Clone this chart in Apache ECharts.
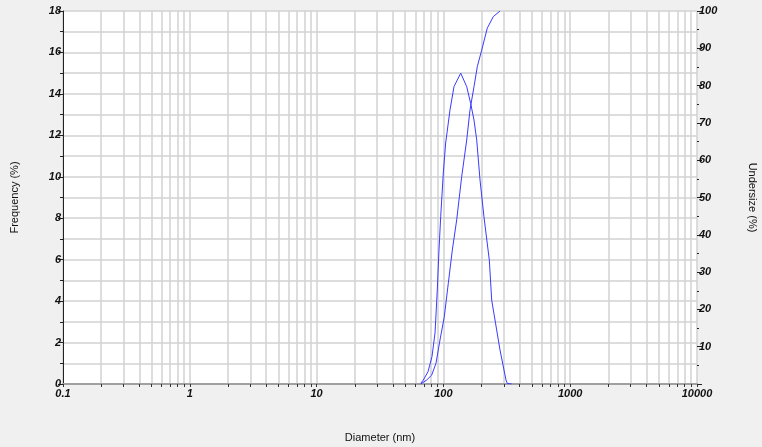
<!DOCTYPE html>
<html>
<head>
<meta charset="utf-8">
<script src="https://cdn.jsdelivr.net/npm/echarts@6/dist/echarts.min.js"></script>
<style>
  html, body { margin: 0; padding: 0; background: #f0f0f0; }
  #chart { width: 762px; height: 447px; }
</style>
</head>
<body>
<div id="chart"></div>
<script>
// frequency curve (left axis)
const freqDiameters = [66.2, 69.4, 75.6, 81.3, 85.9, 89.5, 92.3, 95.2, 99.8, 104.2, 112.7, 121.2, 136.9, 152.7, 164.2, 174.3, 183.1, 194.4, 208.9, 230.2, 240.4, 279.5, 311.7, 319, 345.6];
const freqValues = [0.03, 0.19, 0.59, 1.32, 2.46, 4.54, 6.47, 8.07, 10.18, 11.63, 13.22, 14.35, 15.0, 14.35, 13.53, 12.74, 11.78, 9.85, 8.07, 5.98, 4.05, 1.64, 0.19, 0.03, 0.0];

// undersize curve (right axis)
const underDiameters = [66.2, 73.9, 80.9, 87.4, 94.0, 101.6, 109.3, 117.6, 127.3, 139.4, 152.7, 162.1, 174.3, 185.1, 200.4, 221.9, 247.5, 279.5];
const underValues = [0, 1.07, 2.4, 5.55, 11.8, 18.0, 27.0, 35.9, 44.0, 55.6, 65.4, 73.5, 79.7, 85.1, 89.5, 95.4, 98.5, 100];

// log ticks: 1..9 in each decade
const xTickValues = [];
[0.1, 1, 10, 100, 1000].forEach(d => {
  for (let k = 1; k <= 9; k++) xTickValues.push(+(d * k).toPrecision(3));
});
xTickValues.push(10000);

const chart = echarts.init(document.getElementById('chart'));

const labelFont = {
  fontFamily: 'Liberation Sans',
  fontSize: 11,
  fontWeight: 'bold',
  fontStyle: 'italic',
  color: '#111'
};
const nameFont = {
  fontFamily: 'Liberation Sans',
  fontSize: 11,
  color: '#111'
};
const gridColor = '#d2d2d2';

chart.setOption({
  backgroundColor: '#f0f0f0',
  animation: false,
  grid: {
    left: 63, right: 65, top: 11, bottom: 63,
    outerBoundsMode: 'none',
    containLabel: false,
    show: true, backgroundColor: '#fff', borderWidth: 0
  },
  xAxis: [
    {
      type: 'log',
      logBase: 10,
      min: 0.1,
      max: 10000,
      name: 'Diameter (nm)',
      nameLocation: 'middle',
      nameGap: 48,
      nameTextStyle: nameFont,
      axisLine: { show: false },
      axisTick: {
        show: true, length: 3, customValues: xTickValues,
        lineStyle: { color: '#333' }
      },
      axisLabel: {
        ...labelFont,
        margin: 4,
        formatter: v => String(v)
      },
      splitLine: {
        show: true, customValues: xTickValues,
        lineStyle: { color: gridColor, width: 1.5 }
      }
    },
    {
      type: 'log',
      position: 'top',
      min: 0.1,
      max: 10000,
      axisLine: { show: true, lineStyle: { color: '#a0a0a0', width: 2 } },
      axisTick: { show: false },
      axisLabel: { show: false },
      splitLine: { show: false }
    }
  ],
  yAxis: [
    {
      type: 'value',
      min: 0,
      max: 18,
      interval: 2,
      name: 'Frequency (%)',
      nameLocation: 'middle',
      nameGap: 43,
      nameTextStyle: nameFont,
      axisLine: { show: true, lineStyle: { color: '#222', width: 1 } },
      axisTick: { show: true, length: 5, lineStyle: { color: '#222' } },
      minorTick: { show: true, splitNumber: 2, length: 3, lineStyle: { color: '#222' } },
      axisLabel: { ...labelFont, margin: 2 },
      splitLine: { show: true, lineStyle: { color: gridColor, width: 1.5 } },
      minorSplitLine: { show: true, lineStyle: { color: gridColor, width: 1.5 } }
    },
    {
      type: 'value',
      position: 'right',
      min: 0,
      max: 100,
      interval: 10,
      name: 'Undersize (%)',
      nameLocation: 'middle',
      nameGap: 50,
      nameRotate: -90,
      nameTextStyle: nameFont,
      axisLine: { show: false },
      axisTick: { show: true, length: 5, lineStyle: { color: '#222' } },
      minorTick: { show: true, splitNumber: 2, length: 2, lineStyle: { color: '#222' } },
      axisLabel: {
        ...labelFont,
        margin: 2,
        formatter: v => (v === 0 ? '' : String(v))
      },
      splitLine: { show: false }
    }
  ],
  series: [
    {
      name: 'Frequency',
      type: 'line',
      xAxisIndex: 0,
      yAxisIndex: 0,
      data: freqDiameters.map((d, i) => [d, freqValues[i]]),
      showSymbol: false,
      symbol: 'none',
      lineStyle: { color: '#3a3aff', width: 1 }
    },
    {
      name: 'Undersize',
      type: 'line',
      xAxisIndex: 0,
      yAxisIndex: 1,
      data: underDiameters.map((d, i) => [d, underValues[i]]),
      showSymbol: false,
      symbol: 'none',
      lineStyle: { color: '#3a3aff', width: 1 }
    }
  ]
});
</script>
</body>
</html>
